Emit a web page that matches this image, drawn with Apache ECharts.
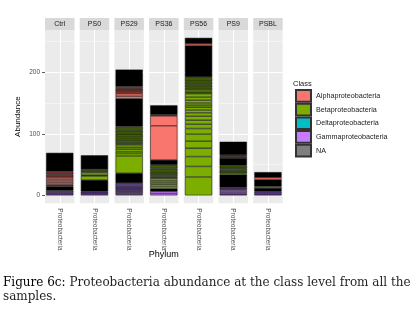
<!DOCTYPE html>
<html>
<head>
<meta charset="utf-8">
<script src="https://cdn.jsdelivr.net/npm/echarts@6/dist/echarts.min.js"></script>
<style>
  html, body { margin: 0; padding: 0; background: #fff; }
  #chart { width: 417px; height: 322px; }
</style>
</head>
<body>
<div id="chart"></div>
<script>
// facets and axis values
const samples = ['Ctrl', 'PS0', 'PS29', 'PS36', 'PS56', 'PS9', 'PSBL']
const phylum = ['Proteobacteria']
const classes = ['Alphaproteobacteria', 'Betaproteobacteria', 'Deltaproteobacteria', 'Gammaproteobacteria', 'NA']
const yTicks = [0, 100, 200]
const yMinor = [50, 150, 250]

// OTU abundances stacked bottom -> top for each sample
// kind: A/B/D/G/N class, lower case = thin OTUs darkened by outlines, K = packed tiny OTUs
const ctrlAbund = [4, 4, 6.5, 3, 3, 3, 3, 3, 4.5, 5, 30]
const ctrlKind = ['g', 'g', 'K', 'a', 'A', 'A', 'A', 'A', 'a', 'a', 'K']
const ps0Abund = [3.5, 3, 18.5, 6.5, 1.5, 4, 2.5, 3, 22.5]
const ps0Kind = ['g', 'g', 'K', 'B', 'b', 'B', 'b', 'b', 'K']
const ps29Abund = [2, 2, 3, 3, 4, 6, 16, 28, 4, 3, 4, 3, 4, 3, 5, 4, 6, 5, 7, 45, 4, 4, 4, 4, 4, 27]
const ps29Kind = ['G', 'G', 'g', 'g', 'g', 'g', 'K', 'B', 'B', 'B', 'B', 'B', 'B', 'b', 'b', 'b', 'b', 'b', 'b', 'K', 'A', 'A', 'a', 'a', 'a', 'K']
const ps36Abund = [3, 3.5, 4.5, 3.5, 3.5, 3, 3, 3.5, 3, 4, 4, 5, 6, 8, 55.5, 16, 2, 15]
const ps36Kind = ['G', 'G', 'K', 'B', 'B', 'B', 'B', 'B', 'b', 'b', 'b', 'b', 'b', 'K', 'A', 'A', 'a', 'K']
const ps56Abund = [30, 17, 16, 13.5, 11.5, 11.5, 9, 7, 6.5, 6.5, 5.5, 4.5, 4.5, 3.5, 3.5, 4.5, 5, 5.5, 3, 3, 4, 5, 5, 7, 51, 3, 9.5]
const ps56Kind = ['B', 'B', 'B', 'B', 'B', 'B', 'B', 'B', 'B', 'B', 'B', 'B', 'B', 'B', 'B', 'B', 'B', 'B', 'b', 'B', 'b', 'b', 'b', 'b', 'K', 'A', 'K']
const ps9Abund = [3, 2.5, 2.5, 2, 3, 20.5, 2.5, 4, 4, 4.5, 12, 2, 1.5, 1.5, 21.5]
const ps9Kind = ['g', 'G', 'G', 'G', 'g', 'K', 'B', 'b', 'b', 'b', 'K', 'a', 'A', 'a', 'K']
const psblAbund = [3, 3.5, 5.5, 2.5, 11, 3.5, 8.7]
const psblKind = ['g', 'g', 'K', 'B', 'K', 'A', 'K']

const abund = [ctrlAbund, ps0Abund, ps29Abund, ps36Abund, ps56Abund, ps9Abund, psblAbund]
const kinds = [ctrlKind, ps0Kind, ps29Kind, ps36Kind, ps56Kind, ps9Kind, psblKind]

const classColors = ['#F8766D', '#7CAE00', '#00BFC4', '#C77CFF', '#7F7F7F']
const fill = {
  A: '#F8766D', a: '#7a3531',
  B: '#7CAE00', b: '#3d5a06',
  D: '#00BFC4',
  G: '#C77CFF', g: '#5b3d85',
  N: '#7F7F7F',
  K: '#000000'
}

// facet layout
const PL = 45, PW = 29.5, PG = 5.2, PT = 30, PH = 173.3, STRIP = 12
const FONT = 'Liberation Sans'
const panelLeft = i => PL + i * (PW + PG)

// panel grid lines (white, ggplot style)
const gridLines = {
  silent: true,
  symbol: 'none',
  z: 1,
  animation: false,
  label: { show: false },
  emphasis: { disabled: true },
  lineStyle: { color: '#ffffff', type: 'solid', width: 1 },
  data: [
    ...yTicks.map(v => ({ yAxis: v, lineStyle: { width: 1 } })),
    ...yMinor.map(v => ({ yAxis: v, lineStyle: { width: 0.5 } })),
    { xAxis: phylum[0], lineStyle: { width: 1 } }
  ]
}

const grids = [], xAxes = [], yAxes = [], series = [], graphics = []

samples.forEach((name, i) => {
  grids.push({
    left: panelLeft(i), top: PT, width: PW, height: PH,
    show: true, backgroundColor: '#EBEBEB', borderWidth: 0
  })
  xAxes.push({
    type: 'category',
    gridIndex: i,
    data: phylum,
    axisLine: { show: false },
    axisTick: { show: true, alignWithLabel: true, length: 3, lineStyle: { color: '#333', width: 0.8 } },
    axisLabel: { rotate: -90, fontSize: 6.5, color: '#4D4D4D', margin: 5, fontFamily: FONT },
    splitLine: { show: false }
  })
  yAxes.push({
    type: 'value',
    gridIndex: i,
    min: -12.8,
    max: 268.3,
    name: i === 0 ? 'Abundance' : '',
    nameLocation: 'middle',
    nameRotate: 90,
    nameGap: 23,
    nameTextStyle: { fontSize: 8, color: '#000', fontFamily: FONT },
    axisLine: { show: false },
    splitLine: { show: false },
    axisTick: { show: i === 0, customValues: yTicks, length: 3, lineStyle: { color: '#333', width: 0.8 } },
    axisLabel: { show: i === 0, customValues: yTicks, fontSize: 6.5, color: '#4D4D4D', margin: 5, fontFamily: FONT }
  })

  abund[i].forEach((v, j) => {
    const s = {
      type: 'bar',
      xAxisIndex: i,
      yAxisIndex: i,
      stack: 's' + i,
      barWidth: '92%',
      silent: true,
      animation: false,
      data: [v],
      itemStyle: { color: fill[kinds[i][j]], borderColor: '#000', borderWidth: 0.5 }
    }
    if (j === 0) s.markLine = gridLines
    series.push(s)
  })

  // facet strip
  graphics.push({
    type: 'rect',
    shape: { x: panelLeft(i), y: PT - STRIP, width: PW, height: STRIP },
    style: { fill: '#D9D9D9' }
  })
  graphics.push({
    type: 'text',
    x: panelLeft(i) + PW / 2,
    y: PT - STRIP / 2,
    style: { text: name, fill: '#1A1A1A', font: '7px "Liberation Sans"', align: 'center', verticalAlign: 'middle' }
  })
})

// legend-only series
classes.forEach((c, k) => {
  series.push({
    type: 'bar', name: c, xAxisIndex: 0, yAxisIndex: 0, stack: 's0', barWidth: '92%', data: [],
    itemStyle: { color: classColors[k], borderColor: '#333', borderWidth: 0.8 }
  })
})

// x axis title
graphics.push({
  type: 'text',
  x: PL + (samples.length * PW + (samples.length - 1) * PG) / 2,
  y: 255,
  style: { text: 'Phylum', fill: '#000', font: '9px "Liberation Sans"', align: 'center', verticalAlign: 'middle' }
})

// figure caption
graphics.push({
  type: 'text',
  x: 3,
  y: 283,
  style: {
    text: '{f|Figure 6c:} Proteobacteria abundance at the class level from all the',
    fill: '#231F20',
    font: '12px "DejaVu Serif"',
    verticalAlign: 'middle',
    rich: { f: { fill: '#000', font: '12px "DejaVu Serif"' } }
  }
})
graphics.push({
  type: 'text',
  x: 3,
  y: 297,
  style: { text: 'samples.', fill: '#231F20', font: '12px "DejaVu Serif"', verticalAlign: 'middle' }
})

const chart = echarts.init(document.getElementById('chart'), null, { renderer: 'canvas' })

chart.setOption({
  backgroundColor: '#ffffff',
  animation: false,
  title: {
    text: 'Class',
    left: 293,
    top: 80,
    padding: 0,
    textStyle: { fontSize: 7.5, fontWeight: 'normal', color: '#1A1A1A', fontFamily: FONT }
  },
  legend: {
    data: classes,
    orient: 'vertical',
    left: 295,
    top: 89,
    padding: 0,
    itemWidth: 15,
    itemHeight: 11.7,
    itemGap: 0,
    icon: 'rect',
    selectedMode: false,
    textStyle: { fontSize: 7.2, color: '#1A1A1A', fontFamily: FONT }
  },
  grid: grids,
  xAxis: xAxes,
  yAxis: yAxes,
  series: series,
  graphic: graphics
})
</script>
</body>
</html>
